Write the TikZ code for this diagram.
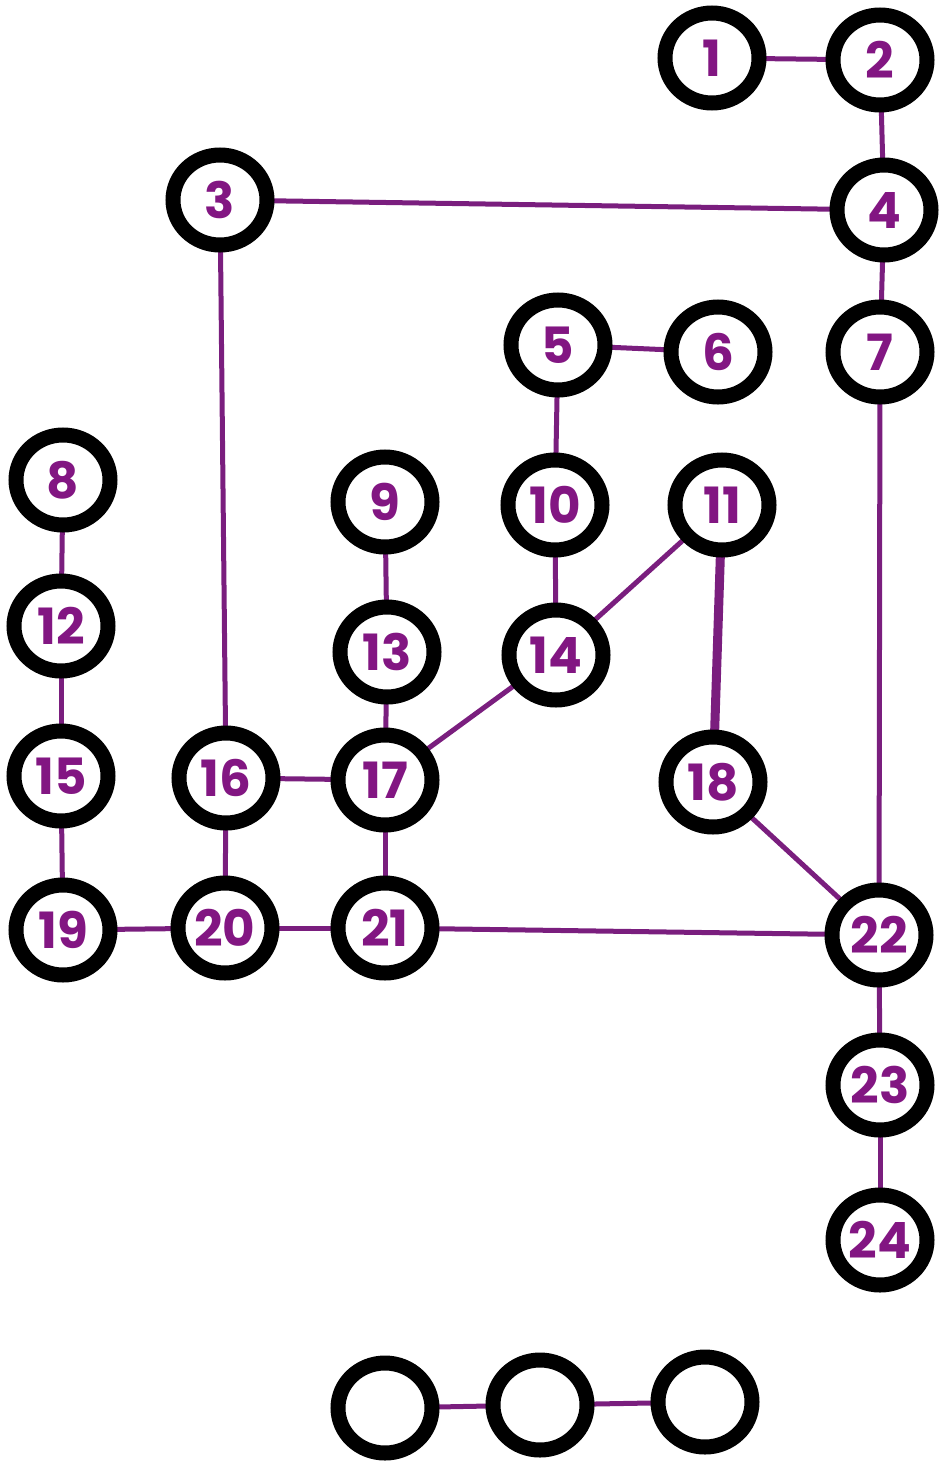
\documentclass[tikz,border=0pt]{standalone}
\usepackage{fontspec}
\setmainfont{Poppins}
\usetikzlibrary{shapes.geometric}
\pgfdeclarelayer{background}
\pgfsetlayers{background,main}
\definecolor{edgepurple}{RGB}{122,30,126}
\definecolor{numpurple}{RGB}{130,22,130}
\tikzset{
  x=1pt, y=-1pt,
  ring/.style={ellipse, draw=black, fill=white, line width=15pt,
    minimum width=94pt, minimum height=90pt, inner sep=0pt,
    text=numpurple, font=\fontsize{50}{50}\selectfont\bfseries},
  link/.style={draw=edgepurple, line width=5pt, line cap=round},
  thicklink/.style={draw=edgepurple, line width=9pt, line cap=round}
}
\begin{document}
\begin{tikzpicture}
\useasboundingbox (0,0) rectangle (942,1467);
\node[ring] (n1) at (712,58) {1};
\node[ring] (n2) at (880,60) {2};
\node[ring] (n3) at (220,200) {3};
\node[ring] (n4) at (884,210) {4};
\node[ring] (n5) at (558,345) {5};
\node[ring] (n6) at (718,352) {6};
\node[ring] (n7) at (880,352) {7};
\node[ring] (n8) at (63,480) {8};
\node[ring] (n9) at (385,502) {9};
\node[ring] (n10) at (555,505) {10};
\node[ring] (n11) at (722,505) {11};
\node[ring] (n12) at (61,626) {12};
\node[ring] (n13) at (387,652) {13};
\node[ring] (n14) at (556,655) {14};
\node[ring] (n15) at (61,776) {15};
\node[ring] (n16) at (226,778) {16};
\node[ring] (n17) at (385,780) {17};
\node[ring] (n18) at (713,782) {18};
\node[ring] (n19) at (63,930) {19};
\node[ring] (n20) at (225,928) {20};
\node[ring] (n21) at (385,928) {21};
\node[ring] (n22) at (879,935) {22};
\node[ring] (n23) at (880,1085) {23};
\node[ring] (n24) at (880,1240) {24};
\node[ring] (b1) at (385,1408) {};
\node[ring] (b2) at (540,1405) {};
\node[ring] (b3) at (705,1402) {};
\begin{pgfonlayer}{background}
\foreach \a/\b in {n1/n2, n2/n4, n3/n4, n3/n16, n4/n7, n5/n6, n5/n10, n7/n22,
  n8/n12, n9/n13, n10/n14, n11/n14, n12/n15, n13/n17, n14/n17, n15/n19,
  n16/n17, n16/n20, n17/n21, n18/n22, n19/n20, n20/n21, n21/n22, n22/n23,
  n23/n24, b1/b2, b2/b3}
  \draw[link] (\a.center) -- (\b.center);
\draw[thicklink] (n11.center) -- (n18.center);
\end{pgfonlayer}
\end{tikzpicture}
\end{document}
